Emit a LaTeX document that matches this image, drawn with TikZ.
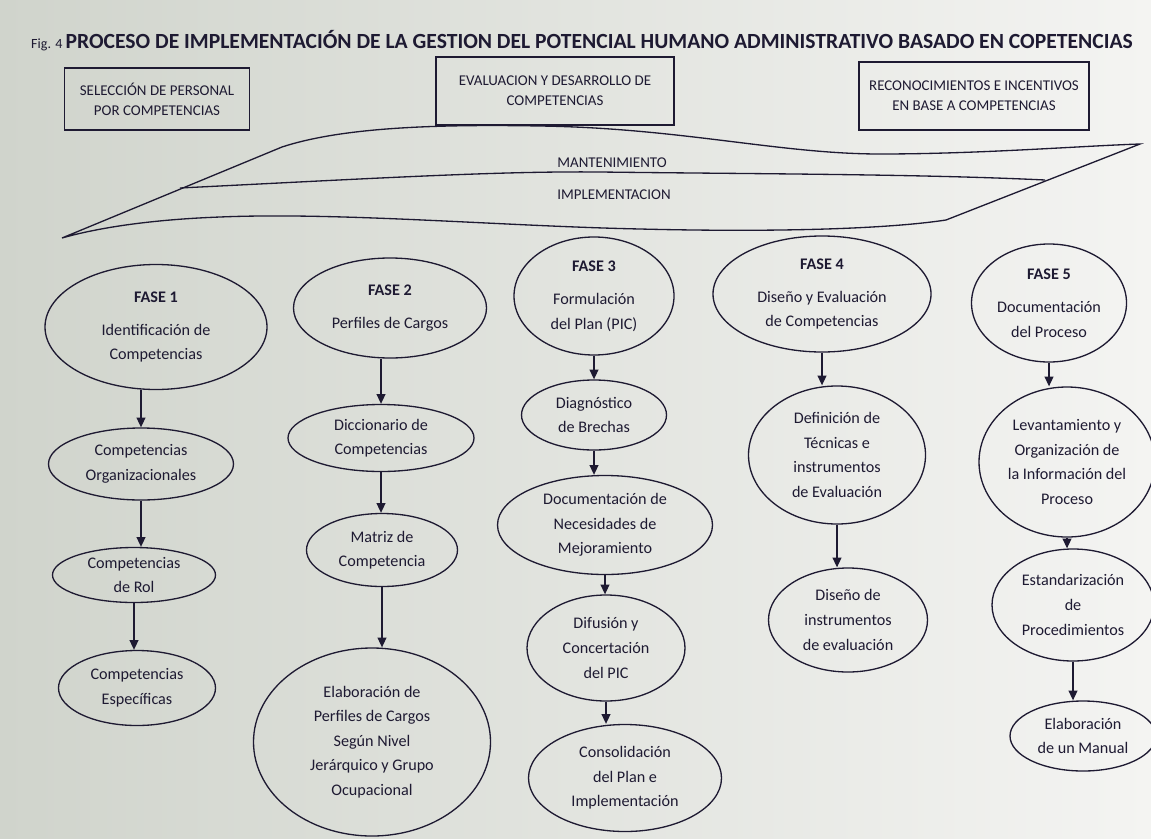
\documentclass[tikz,border=0pt]{standalone}
\usepackage{fontspec}
\setmainfont{Carlito}
\usetikzlibrary{shapes.geometric}
\usetikzlibrary{arrows.meta}
\definecolor{ink}{RGB}{30,26,50}
\definecolor{papl}{RGB}{208,212,204}
\definecolor{papr}{RGB}{244,244,242}

\begin{document}
\begin{tikzpicture}[x=0.02cm,y=-0.02cm,
	ovalo/.style 2 args={draw=ink,ellipse,line width=0.75pt,inner sep=0pt,text=ink,align=center,
		minimum width=#1*0.02cm,minimum height=#2*0.02cm,font=\fontsize{9.2}{14}\selectfont},
	caja/.style 2 args={draw=ink,line width=0.75pt,text=ink,align=center,
		minimum width=#1*0.02cm,minimum height=#2*0.02cm,font=\fontsize{8.5}{11.4}\selectfont},
	cinta/.style={draw=ink,line width=0.75pt},
	flecha/.style={draw=ink,line width=0.75pt,-{Triangle[width=5pt,length=5.5pt]}}]
					\useasboundingbox (0,0) rectangle (1151,838);
					\shade[left color=papl,right color=papr] (0,0) rectangle (1151,838);
					% titulo y cajas
					\node[text=ink] (tit) at (582,41) {{\fontsize{8}{9}\selectfont Fig. 4 }{\fontsize{12.3}{14}\selectfont\bfseries PROCESO DE IMPLEMENTACIÓN DE LA GESTION DEL POTENCIAL HUMANO ADMINISTRATIVO BASADO EN COPETENCIAS}};
					\node[caja={185}{62}] (b1) at (157,99) {SELECCIÓN DE PERSONAL\\POR COMPETENCIAS};
					\node[caja={238}{68}] (b2) at (555,91) {EVALUACION Y DESARROLLO DE\\COMPETENCIAS};
					\node[caja={230}{68}] (b3) at (974,96) {RECONOCIMIENTOS E INCENTIVOS\\EN BASE A COMPETENCIAS};
					% cinta
					\coordinate (L) at (62,238);
					\coordinate (TL) at (282,147);
					\coordinate (R) at (1140,144);
					\coordinate (BR) at (946,220);
					\coordinate (M1) at (180,188);
					\coordinate (M2) at (1045,180);
					\draw[cinta] (L) -- (TL) .. controls (340,128) and (430,124) .. (540,126)
						.. controls (680,128) and (780,154) .. (880,154)
						.. controls (980,154) and (1080,146) .. (R) -- (BR)
						.. controls (880,230) and (760,232) .. (640,229)
						.. controls (500,226) and (340,212) .. (220,217)
						.. controls (140,220) and (90,230) .. (L) -- cycle;
					\draw[cinta] (M1) .. controls (380,178) and (500,171) .. (600,172) .. controls (760,174) and (920,174) .. (M2);
					\node[text=ink,font=\fontsize{8.5}{10}\selectfont] (mant) at (612,163) {MANTENIMIENTO};
					\node[text=ink,font=\fontsize{8.5}{10}\selectfont] (impl) at (614,195) {IMPLEMENTACION};
					% fase 1
					\node[ovalo={222}{125}] (f1) at (156,327) {\textbf{FASE 1}\\[5pt]Identificación de\\Competencias};
					\node[ovalo={185}{72}] (f1a) at (141,464) {Competencias\\Organizacionales};
					\node[ovalo={163}{55}] (f1b) at (134,575) {Competencias\\de Rol};
					\node[ovalo={157}{75}] (f1c) at (137,688) {Competencias\\Específicas};
					% fase 2
					\node[ovalo={193}{100}] (f2) at (390,308) {\textbf{FASE 2}\\[5pt]Perfiles de Cargos};
					\node[ovalo={186}{67}] (f2a) at (381,438) {Diccionario de\\Competencias};
					\node[ovalo={151}{73}] (f2b) at (382,550) {Matriz de\\Competencia};
					\node[ovalo={237}{188}] (f2c) at (372,742) {Elaboración de\\Perfiles de Cargos\\Según Nivel\\Jerárquico y Grupo\\Ocupacional};
					% fase 3
					\node[ovalo={160}{118}] (f3) at (594,296) {\textbf{FASE 3}\\[5pt]Formulación\\del Plan (PIC)};
					\node[ovalo={145}{70}] (f3a) at (594,415) {Diagnóstico\\de Brechas};
					\node[ovalo={215}{99}] (f3b) at (605,525) {Documentación de\\Necesidades de\\Mejoramiento};
					\node[ovalo={158}{106}] (f3c) at (606,648) {Difusión y\\Concertación\\del PIC};
					\node[ovalo={193}{107}] (f3d) at (625,778) {Consolidación\\del Plan e\\Implementación};
					% fase 4
					\node[ovalo={218}{116}] (f4) at (822,294) {\textbf{FASE 4}\\[5pt]Diseño y Evaluación\\de Competencias};
					\node[ovalo={177}{138}] (f4a) at (837,455) {Definición de\\Técnicas e\\instrumentos\\de Evaluación};
					\node[ovalo={159}{104}] (f4b) at (848,620) {Diseño de\\instrumentos\\de evaluación};
					% fase 5
					\node[ovalo={155}{118}] (f5) at (1049,303) {\textbf{FASE 5}\\[5pt]Documentación\\del Proceso};
					\node[ovalo={176}{150}] (f5a) at (1067,462) {Levantamiento y\\Organización de\\la Información del\\Proceso};
					\node[ovalo={162}{112}] (f5b) at (1073,605) {Estandarización\\de\\Procedimientos};
					\node[ovalo={146}{70}] (f5c) at (1083,736) {Elaboración\\de un Manual};
					% flechas
					\draw[flecha] (f1a.north |- f1.south) -- (f1a.north);
					\draw[flecha] (f1a.south) -- (f1a.south |- f1b.north);
					\draw[flecha] (f1b.south) -- (f1b.south |- f1c.north);
					\draw[flecha] (f2a.north |- f2.south) -- (f2a.north);
					\draw[flecha] (f2a.south) -- (f2a.south |- f2b.north);
					\draw[flecha] (f2b.south) -- (f2b.south |- f2c.north);
					\draw[flecha] (f3.south) -- (f3.south |- f3a.north);
					\draw[flecha] (f3a.south) -- (f3a.south |- f3b.north);
					\draw[flecha] (f3b.south) -- (f3b.south |- f3c.north);
					\draw[flecha] (f3c.south) -- (f3c.south |- f3d.north);
					\draw[flecha] (f4.south) -- (f4.south |- f4a.north);
					\draw[flecha] (f4a.south) -- (f4a.south |- f4b.north);
					\draw[flecha] (f5.south) -- (f5.south |- f5a.north);
					\draw[flecha] (f5a.south) -- (f5a.south |- f5b.north);
					\draw[flecha] (f5b.south) -- (f5b.south |- f5c.north);
\end{tikzpicture}
\end{document}
